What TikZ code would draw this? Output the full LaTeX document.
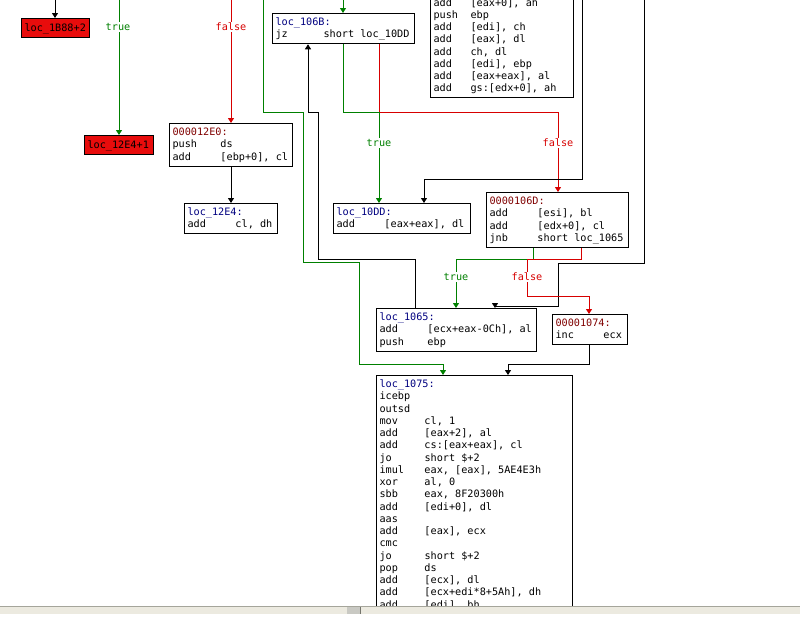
\documentclass[tikz,border=0pt]{standalone}
\usepackage{fontspec}
\newfontfamily\codefont{DejaVu Sans Mono}
\usetikzlibrary{arrows.meta}
\definecolor{gline}{RGB}{0,128,0}
\definecolor{rline}{RGB}{215,0,0}
\definecolor{navyc}{RGB}{0,0,128}
\definecolor{dredc}{RGB}{128,0,0}
\definecolor{rboxc}{RGB}{232,12,12}
\definecolor{sbarc}{RGB}{236,234,224}
\definecolor{sbarl}{RGB}{165,165,155}
\newcommand\fixsp{\spaceskip=0.602em\relax\xspaceskip=0.602em\relax}
\newcommand\opA[2]{\makebox[48pt][l]{#1}{\fixsp #2}}
\newcommand\opB[2]{\makebox[45pt][l]{#1}{\fixsp #2}}
\newcommand\opC[2]{\makebox[37pt][l]{#1}{\fixsp #2}}
\newcommand\hd[2]{\rule{0pt}{12pt}\textcolor{#1}{#2}}
\newcommand\lastl{\rule[-6pt]{0pt}{6pt}}
\newcommand\codesize{\codefont\fontsize{10.2pt}{12.25pt}\selectfont}
\tikzset{
  blk/.style={draw=black, line width=1pt, fill=white, anchor=north west,
    inner xsep=3pt, inner ysep=0pt, align=left, font=\codesize},
  redbox/.style={blk, fill=rboxc},
  edge/.style={line width=1pt, -{Triangle[width=6pt,length=5pt]}},
  bedge/.style={edge, draw=black},
  gedge/.style={edge, draw=gline},
  redge/.style={edge, draw=rline},
  lbl/.style={fill=white, inner xsep=1pt, inner ysep=1pt, font=\codesize},
}
\begin{document}
\begin{tikzpicture}[x=1pt, y=-1pt]
\useasboundingbox (0,0) rectangle (800,637);
\fill[white] (0,0) rectangle (800,637);
\begin{scope}
\clip (0,0) rectangle (800,606);
% blocks
\node[redbox, text width=62pt] (n1B88) at (21,18)
  {\rule{0pt}{13pt}loc\_1B88+2\lastl};
\node[redbox, text width=63pt] (n12E41) at (84,135)
  {\rule{0pt}{13pt}loc\_12E4+1\lastl};
\node[blk, text width=117pt] (n12E0) at (169,123)
  {\hd{dredc}{000012E0:}\\ \opA{push}{ds}\\ \opA{add}{[ebp+0], cl}\lastl};
\node[blk, text width=87pt] (n12E4) at (184,203)
  {\hd{navyc}{loc\_12E4:}\\ \opA{add}{cl, dh}\lastl};
\node[blk, text width=136pt] (n106B) at (272,13)
  {\hd{navyc}{loc\_106B:}\\ \opA{jz}{short loc\_10DD}\lastl};
\node[blk, text width=137pt] (ntop) at (430,-6.5)
  {\rule{0pt}{12pt}\opC{add}{[eax+0], ah}\\ \opC{push}{ebp}\\ \opC{add}{[edi], ch}\\
   \opC{add}{[eax], dl}\\ \opC{add}{ch, dl}\\ \opC{add}{[edi], ebp}\\
   \opC{add}{[eax+eax], al}\\ \opC{add}{gs:[edx+0], ah}\lastl};
\node[blk, text width=131pt] (n10DD) at (333,203)
  {\hd{navyc}{loc\_10DD:}\\ \opA{add}{[eax+eax], dl}\lastl};
\node[blk, text width=136pt] (n106D) at (486,192)
  {\hd{dredc}{0000106D:}\\ \opA{add}{[esi], bl}\\ \opA{add}{[edx+0], cl}\\ \opA{jnb}{short loc\_1065}\lastl};
\node[blk, text width=154pt] (n1065) at (376,308)
  {\hd{navyc}{loc\_1065:}\\ \opA{add}{[ecx+eax-0Ch], al}\\ \opA{push}{ebp}\lastl};
\node[blk, text width=69pt] (n1074) at (552,314)
  {\hd{dredc}{00001074:}\\ \opA{inc}{ecx}\lastl};
\node[blk, text width=190pt] (n1075) at (376,375)
  {\hd{navyc}{loc\_1075:}\\ icebp\\ outsd\\ \opB{mov}{cl, 1}\\ \opB{add}{[eax+2], al}\\
   \opB{add}{cs:[eax+eax], cl}\\ \opB{jo}{short \$+2}\\ \opB{imul}{eax, [eax], 5AE4E3h}\\
   \opB{xor}{al, 0}\\ \opB{sbb}{eax, 8F20300h}\\ \opB{add}{[edi+0], dl}\\ aas\\
   \opB{add}{[eax], ecx}\\ cmc\\ \opB{jo}{short \$+2}\\ \opB{pop}{ds}\\
   \opB{add}{[ecx], dl}\\ \opB{add}{[ecx+edi*8+5Ah], dh}\\ \opB{add}{[edi], bh}\lastl};
% free ends above the view
\coordinate (s1) at (55,-5);
\coordinate (s2) at (119,-5);
\coordinate (s3) at (231,-5);
\coordinate (s4) at (343,-5);
\coordinate (s5) at (263,-5);
\coordinate (s6) at (582,-5);
\coordinate (s7) at (644,-5);
% edges
\draw[bedge] (s1) -- (s1 |- n1B88.north);
\draw[gedge] (s2) -- (s2 |- n12E41.north);
\draw[redge] (s3) -- (s3 |- n12E0.north);
\draw[bedge] (n12E0.south -| 231,0) -- (n12E4.north -| 231,0);
\draw[gedge] (s4) -- (s4 |- n106B.north);
\draw[redge] (n106B.south -| 379,0) -- (379,112) -- (558,112) -- (n106D.north -| 558,0);
\draw[gedge] (n106B.south -| 343,0) -- (343,112) -- (379,112) -- (n10DD.north -| 379,0);
\draw[bedge] (n1065.north -| 415,0) -- (415,259) -- (318,259) -- (318,112) -- (308,112) -- (n106B.south -| 308,0);
\draw[gedge] (s5) -- (263,112) -- (303,112) -- (303,262) -- (359,262) -- (359,364) -- (443,364) -- (n1075.north -| 443,0);
\draw[bedge] (s6) -- (582,179) -- (424,179) -- (n10DD.north -| 424,0);
\draw[bedge] (s7) -- (644,263) -- (558,263) -- (558,306) -- (495,306) -- (n1065.north -| 495,0);
\draw[gedge] (n106D.south -| 533,0) -- (533,259) -- (456,259) -- (n1065.north -| 456,0);
\draw[redge] (n106D.south -| 581,0) -- (581,259) -- (527,259) -- (527,296) -- (589,296) -- (n1074.north -| 589,0);
\draw[bedge] (n1074.south -| 589,0) -- (589,364) -- (508,364) -- (n1075.north -| 508,0);
% edge labels
\node[lbl, text=gline] (l1) at (118,27) {true};
\node[lbl, text=rline] (l2) at (231,27) {false};
\node[lbl, text=gline] (l3) at (379,143) {true};
\node[lbl, text=rline] (l4) at (558,143) {false};
\node[lbl, text=gline] (l5) at (456,277) {true};
\node[lbl, text=rline] (l6) at (527,277) {false};
\end{scope}
% scrollbar strip
\fill[sbarc] (0,606) rectangle (800,614);
\draw[sbarl, line width=1pt] (0,606.5) -- (800,606.5);
\fill[sbarl!60!white] (347,607) rectangle (360,614);
\draw[sbarl!70!black, line width=1pt] (360.5,607) -- (360.5,614);
\end{tikzpicture}
\end{document}
